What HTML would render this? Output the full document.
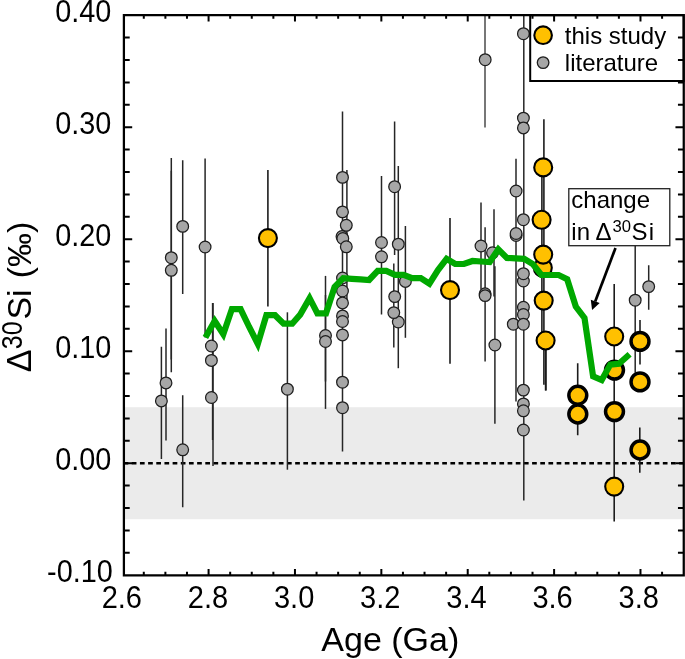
<!DOCTYPE html><html><head><meta charset="utf-8"><title>chart</title>
<style>html,body{margin:0;padding:0;background:#fff}svg{display:block;will-change:transform}text{font-family:"Liberation Sans",sans-serif;fill:#000}</style></head><body>
<svg width="685" height="659" viewBox="0 0 685 659">
<rect width="685" height="659" fill="#fff"/>
<defs><clipPath id="c"><rect x="123.6" y="15.2" width="560.0" height="560.0"/></clipPath></defs>
<rect x="123.6" y="407.2" width="560.0" height="112.0" fill="#ebebeb"/>
<line x1="123.6" y1="463.2" x2="683.6" y2="463.2" stroke="#000" stroke-width="2.6" stroke-dasharray="4.7 3.47"/>
<g clip-path="url(#c)">
<line x1="485.0" y1="10.0" x2="485.0" y2="127.5" stroke="#4a4a4a" stroke-width="1.5"/>
<line x1="171.3" y1="157.9" x2="171.3" y2="372.3" stroke="#262626" stroke-width="1.5"/>
<line x1="171.3" y1="170.8" x2="171.3" y2="359.6" stroke="#262626" stroke-width="1.5"/>
<line x1="182.7" y1="160.3" x2="182.7" y2="294.1" stroke="#262626" stroke-width="1.5"/>
<line x1="205.1" y1="158.6" x2="205.1" y2="337.5" stroke="#262626" stroke-width="1.5"/>
<line x1="166.0" y1="328.6" x2="166.0" y2="440.5" stroke="#262626" stroke-width="1.5"/>
<line x1="161.4" y1="346.8" x2="161.4" y2="459.0" stroke="#262626" stroke-width="1.5"/>
<line x1="182.7" y1="395.3" x2="182.7" y2="507.3" stroke="#262626" stroke-width="1.5"/>
<line x1="213.0" y1="303.0" x2="213.0" y2="466.0" stroke="#262626" stroke-width="1.5"/>
<line x1="212.6" y1="303.0" x2="212.6" y2="440.0" stroke="#262626" stroke-width="1.5"/>
<line x1="287.4" y1="312.3" x2="287.4" y2="469.7" stroke="#262626" stroke-width="1.5"/>
<line x1="325.5" y1="275.9" x2="325.5" y2="408.9" stroke="#262626" stroke-width="1.5"/>
<line x1="325.5" y1="295.0" x2="325.5" y2="381.5" stroke="#262626" stroke-width="1.5"/>
<line x1="342.5" y1="111.4" x2="342.5" y2="451.4" stroke="#262626" stroke-width="1.5"/>
<line x1="346.9" y1="169.9" x2="346.9" y2="300.0" stroke="#262626" stroke-width="1.5"/>
<line x1="381.5" y1="176.0" x2="381.5" y2="314.5" stroke="#262626" stroke-width="1.5"/>
<line x1="394.6" y1="121.4" x2="394.6" y2="255.0" stroke="#262626" stroke-width="1.5"/>
<line x1="393.8" y1="263.5" x2="393.8" y2="347.5" stroke="#262626" stroke-width="1.5"/>
<line x1="398.3" y1="166.0" x2="398.3" y2="368.2" stroke="#262626" stroke-width="1.5"/>
<line x1="405.4" y1="225.9" x2="405.4" y2="337.8" stroke="#262626" stroke-width="1.5"/>
<line x1="481.0" y1="202.4" x2="481.0" y2="289.6" stroke="#262626" stroke-width="1.5"/>
<line x1="494.0" y1="209.2" x2="494.0" y2="296.4" stroke="#262626" stroke-width="1.5"/>
<line x1="485.1" y1="227.3" x2="485.1" y2="361.5" stroke="#262626" stroke-width="1.5"/>
<line x1="494.9" y1="266.3" x2="494.9" y2="423.7" stroke="#262626" stroke-width="1.5"/>
<line x1="516.0" y1="158.7" x2="516.0" y2="401.6" stroke="#262626" stroke-width="1.5"/>
<line x1="523.8" y1="10.0" x2="523.8" y2="500.5" stroke="#262626" stroke-width="1.5"/>
<line x1="635.2" y1="227.0" x2="635.2" y2="372.8" stroke="#262626" stroke-width="1.5"/>
<line x1="648.7" y1="265.2" x2="648.7" y2="309.7" stroke="#262626" stroke-width="1.5"/>
<line x1="267.9" y1="170.0" x2="267.9" y2="306.5" stroke="#1c1c1c" stroke-width="1.6"/>
<line x1="450.0" y1="218.1" x2="450.0" y2="363.8" stroke="#1c1c1c" stroke-width="1.6"/>
<line x1="543.9" y1="119.2" x2="543.9" y2="384.7" stroke="#1c1c1c" stroke-width="1.6"/>
<line x1="541.9" y1="170.0" x2="541.9" y2="345.0" stroke="#1c1c1c" stroke-width="1.6"/>
<line x1="545.6" y1="340.0" x2="545.6" y2="390.5" stroke="#1c1c1c" stroke-width="1.6"/>
<line x1="545.9" y1="340.0" x2="545.9" y2="390.5" stroke="#1c1c1c" stroke-width="1.6"/>
<line x1="614.2" y1="284.0" x2="614.2" y2="521.4" stroke="#1c1c1c" stroke-width="1.6"/>
<line x1="577.7" y1="363.2" x2="577.7" y2="435.2" stroke="#1c1c1c" stroke-width="1.6"/>
<line x1="640.0" y1="320.0" x2="640.0" y2="364.6" stroke="#1c1c1c" stroke-width="1.6"/>
<line x1="639.8" y1="427.5" x2="639.8" y2="472.8" stroke="#1c1c1c" stroke-width="1.6"/>
<circle cx="171.3" cy="257.7" r="5.85" fill="#a6a6a6" stroke="#1e1e1e" stroke-width="1.25"/>
<circle cx="171.3" cy="270.3" r="5.85" fill="#a6a6a6" stroke="#1e1e1e" stroke-width="1.25"/>
<circle cx="182.7" cy="226.4" r="5.85" fill="#a6a6a6" stroke="#1e1e1e" stroke-width="1.25"/>
<circle cx="205.1" cy="247.0" r="5.85" fill="#a6a6a6" stroke="#1e1e1e" stroke-width="1.25"/>
<circle cx="166.0" cy="382.9" r="5.85" fill="#a6a6a6" stroke="#1e1e1e" stroke-width="1.25"/>
<circle cx="161.4" cy="400.9" r="5.85" fill="#a6a6a6" stroke="#1e1e1e" stroke-width="1.25"/>
<circle cx="182.7" cy="449.8" r="5.85" fill="#a6a6a6" stroke="#1e1e1e" stroke-width="1.25"/>
<circle cx="211.4" cy="346.0" r="5.85" fill="#a6a6a6" stroke="#1e1e1e" stroke-width="1.25"/>
<circle cx="211.4" cy="360.4" r="5.85" fill="#a6a6a6" stroke="#1e1e1e" stroke-width="1.25"/>
<circle cx="211.4" cy="397.5" r="5.85" fill="#a6a6a6" stroke="#1e1e1e" stroke-width="1.25"/>
<circle cx="287.4" cy="389.2" r="5.85" fill="#a6a6a6" stroke="#1e1e1e" stroke-width="1.25"/>
<circle cx="325.5" cy="335.5" r="5.85" fill="#a6a6a6" stroke="#1e1e1e" stroke-width="1.25"/>
<circle cx="325.5" cy="341.5" r="5.85" fill="#a6a6a6" stroke="#1e1e1e" stroke-width="1.25"/>
<circle cx="342.5" cy="177.4" r="5.85" fill="#a6a6a6" stroke="#1e1e1e" stroke-width="1.25"/>
<circle cx="342.5" cy="211.9" r="5.85" fill="#a6a6a6" stroke="#1e1e1e" stroke-width="1.25"/>
<circle cx="346.3" cy="225.3" r="5.85" fill="#a6a6a6" stroke="#1e1e1e" stroke-width="1.25"/>
<circle cx="342.0" cy="236.5" r="5.85" fill="#a6a6a6" stroke="#1e1e1e" stroke-width="1.25"/>
<circle cx="342.8" cy="238.5" r="5.85" fill="#a6a6a6" stroke="#1e1e1e" stroke-width="1.25"/>
<circle cx="346.3" cy="246.8" r="5.85" fill="#a6a6a6" stroke="#1e1e1e" stroke-width="1.25"/>
<circle cx="342.5" cy="278.0" r="5.85" fill="#a6a6a6" stroke="#1e1e1e" stroke-width="1.25"/>
<circle cx="342.5" cy="291.0" r="5.85" fill="#a6a6a6" stroke="#1e1e1e" stroke-width="1.25"/>
<circle cx="342.5" cy="302.9" r="5.85" fill="#a6a6a6" stroke="#1e1e1e" stroke-width="1.25"/>
<circle cx="342.5" cy="315.9" r="5.85" fill="#a6a6a6" stroke="#1e1e1e" stroke-width="1.25"/>
<circle cx="342.5" cy="321.5" r="5.85" fill="#a6a6a6" stroke="#1e1e1e" stroke-width="1.25"/>
<circle cx="342.5" cy="334.9" r="5.85" fill="#a6a6a6" stroke="#1e1e1e" stroke-width="1.25"/>
<circle cx="342.5" cy="382.2" r="5.85" fill="#a6a6a6" stroke="#1e1e1e" stroke-width="1.25"/>
<circle cx="342.5" cy="407.7" r="5.85" fill="#a6a6a6" stroke="#1e1e1e" stroke-width="1.25"/>
<circle cx="381.5" cy="242.5" r="5.85" fill="#a6a6a6" stroke="#1e1e1e" stroke-width="1.25"/>
<circle cx="381.5" cy="256.8" r="5.85" fill="#a6a6a6" stroke="#1e1e1e" stroke-width="1.25"/>
<circle cx="394.6" cy="186.7" r="5.85" fill="#a6a6a6" stroke="#1e1e1e" stroke-width="1.25"/>
<circle cx="398.3" cy="322.0" r="5.85" fill="#a6a6a6" stroke="#1e1e1e" stroke-width="1.25"/>
<circle cx="393.8" cy="312.6" r="5.85" fill="#a6a6a6" stroke="#1e1e1e" stroke-width="1.25"/>
<circle cx="394.7" cy="296.6" r="5.85" fill="#a6a6a6" stroke="#1e1e1e" stroke-width="1.25"/>
<circle cx="398.3" cy="244.2" r="5.85" fill="#a6a6a6" stroke="#1e1e1e" stroke-width="1.25"/>
<circle cx="405.4" cy="281.4" r="5.85" fill="#a6a6a6" stroke="#1e1e1e" stroke-width="1.25"/>
<circle cx="485.2" cy="59.7" r="5.85" fill="#a6a6a6" stroke="#1e1e1e" stroke-width="1.25"/>
<circle cx="481.0" cy="246.0" r="5.85" fill="#a6a6a6" stroke="#1e1e1e" stroke-width="1.25"/>
<circle cx="492.5" cy="252.8" r="5.85" fill="#a6a6a6" stroke="#1e1e1e" stroke-width="1.25"/>
<circle cx="485.1" cy="293.8" r="5.85" fill="#a6a6a6" stroke="#1e1e1e" stroke-width="1.25"/>
<circle cx="485.1" cy="295.6" r="5.85" fill="#a6a6a6" stroke="#1e1e1e" stroke-width="1.25"/>
<circle cx="494.9" cy="345.0" r="5.85" fill="#a6a6a6" stroke="#1e1e1e" stroke-width="1.25"/>
<circle cx="516.1" cy="191.0" r="5.85" fill="#a6a6a6" stroke="#1e1e1e" stroke-width="1.25"/>
<circle cx="516.1" cy="235.5" r="5.85" fill="#a6a6a6" stroke="#1e1e1e" stroke-width="1.25"/>
<circle cx="516.1" cy="233.5" r="5.85" fill="#a6a6a6" stroke="#1e1e1e" stroke-width="1.25"/>
<circle cx="513.3" cy="324.2" r="5.85" fill="#a6a6a6" stroke="#1e1e1e" stroke-width="1.25"/>
<circle cx="523.4" cy="33.7" r="5.85" fill="#a6a6a6" stroke="#1e1e1e" stroke-width="1.25"/>
<circle cx="523.4" cy="118.1" r="5.85" fill="#a6a6a6" stroke="#1e1e1e" stroke-width="1.25"/>
<circle cx="523.4" cy="127.9" r="5.85" fill="#a6a6a6" stroke="#1e1e1e" stroke-width="1.25"/>
<circle cx="523.4" cy="219.7" r="5.85" fill="#a6a6a6" stroke="#1e1e1e" stroke-width="1.25"/>
<circle cx="523.4" cy="281.0" r="5.85" fill="#a6a6a6" stroke="#1e1e1e" stroke-width="1.25"/>
<circle cx="523.4" cy="273.7" r="5.85" fill="#a6a6a6" stroke="#1e1e1e" stroke-width="1.25"/>
<circle cx="523.4" cy="307.3" r="5.85" fill="#a6a6a6" stroke="#1e1e1e" stroke-width="1.25"/>
<circle cx="523.4" cy="314.5" r="5.85" fill="#a6a6a6" stroke="#1e1e1e" stroke-width="1.25"/>
<circle cx="523.4" cy="324.2" r="5.85" fill="#a6a6a6" stroke="#1e1e1e" stroke-width="1.25"/>
<circle cx="523.4" cy="390.1" r="5.85" fill="#a6a6a6" stroke="#1e1e1e" stroke-width="1.25"/>
<circle cx="523.4" cy="403.9" r="5.85" fill="#a6a6a6" stroke="#1e1e1e" stroke-width="1.25"/>
<circle cx="523.4" cy="410.8" r="5.85" fill="#a6a6a6" stroke="#1e1e1e" stroke-width="1.25"/>
<circle cx="523.4" cy="430.0" r="5.85" fill="#a6a6a6" stroke="#1e1e1e" stroke-width="1.25"/>
<circle cx="635.2" cy="300.2" r="5.85" fill="#a6a6a6" stroke="#1e1e1e" stroke-width="1.25"/>
<circle cx="648.7" cy="286.6" r="5.85" fill="#a6a6a6" stroke="#1e1e1e" stroke-width="1.25"/>
<circle cx="267.9" cy="238.1" r="9.0" fill="#ffc000" stroke="#000" stroke-width="2.1"/>
<circle cx="450.0" cy="290.1" r="9.0" fill="#ffc000" stroke="#000" stroke-width="2.1"/>
<circle cx="543.2" cy="167.4" r="9.0" fill="#ffc000" stroke="#000" stroke-width="2.1"/>
<circle cx="541.6" cy="219.8" r="9.0" fill="#ffc000" stroke="#000" stroke-width="2.1"/>
<circle cx="542.8" cy="267.8" r="9.0" fill="#ffc000" stroke="#000" stroke-width="2.1"/>
<circle cx="543.2" cy="254.6" r="9.0" fill="#ffc000" stroke="#000" stroke-width="2.1"/>
<circle cx="543.7" cy="300.6" r="9.0" fill="#ffc000" stroke="#000" stroke-width="2.1"/>
<circle cx="545.6" cy="340.5" r="9.0" fill="#ffc000" stroke="#000" stroke-width="2.1"/>
<circle cx="614.2" cy="336.5" r="9.0" fill="#ffc000" stroke="#000" stroke-width="2.1"/>
<circle cx="614.2" cy="486.6" r="9.0" fill="#ffc000" stroke="#000" stroke-width="2.1"/>
<circle cx="577.8" cy="414.0" r="8.95" fill="#ffc000" stroke="#000" stroke-width="3.5"/>
<circle cx="577.8" cy="395.3" r="8.95" fill="#ffc000" stroke="#000" stroke-width="3.5"/>
<circle cx="614.5" cy="370.1" r="8.95" fill="#ffc000" stroke="#000" stroke-width="3.5"/>
<circle cx="614.5" cy="411.6" r="8.95" fill="#ffc000" stroke="#000" stroke-width="3.5"/>
<circle cx="640.0" cy="341.4" r="8.95" fill="#ffc000" stroke="#000" stroke-width="3.5"/>
<circle cx="640.0" cy="381.9" r="8.95" fill="#ffc000" stroke="#000" stroke-width="3.5"/>
<circle cx="640.0" cy="450.0" r="8.95" fill="#ffc000" stroke="#000" stroke-width="3.5"/>
<polyline points="205.4,337.5 214.7,321.0 223.3,334.2 231.9,309.1 240.6,309.1 249.2,327.0 257.8,343.9 266.4,315.2 275.0,315.2 283.6,323.7 292.2,323.7 300.2,314.6 309.6,298.2 317.4,313.3 326.0,313.3 334.6,287.0 343.2,278.2 351.9,278.8 360.5,279.4 369.1,280.0 377.7,270.9 386.3,270.9 394.9,274.9 403.5,274.9 412.2,278.2 420.8,278.2 429.4,283.7 438.0,270.1 446.6,258.8 455.2,264.0 463.9,264.0 472.5,261.0 481.1,261.5 489.7,262.0 498.3,249.3 506.9,257.9 515.5,258.3 524.2,258.9 532.8,264.0 541.4,275.0 550.0,275.0 558.6,275.0 567.2,279.2 575.8,306.5 584.5,318.0 593.1,376.4 601.7,380.1 610.3,364.6 618.9,363.7 629.6,354.2" fill="none" stroke="#00a800" stroke-width="6.2" stroke-linejoin="miter" stroke-miterlimit="10"/>
</g>
<rect x="568.8" y="188.7" width="101.0" height="57.0" fill="#fff" stroke="#222" stroke-width="1.3"/>
<text transform="translate(571.30,208.20) scale(1.018,1)" font-size="23.60" text-anchor="start">change</text>
<text transform="translate(571.30,239.90) scale(1.018,1)" font-size="23.60" text-anchor="start">in<tspan dx="5.3">Δ</tspan><tspan font-size="16.4" dy="-8.3" dx="1.0">30</tspan><tspan dy="8.3" dx="0.5" letter-spacing="1.1">Si</tspan></text>
<line x1="615.5" y1="248.0" x2="595.2" y2="301.4" stroke="#000" stroke-width="2.7"/>
<polygon points="592.1,309.9 590.8,299.7 599.7,303.1" fill="#000"/>
<rect x="530.2" y="15.2" width="153.4" height="65.8" fill="#fff" stroke="#000" stroke-width="2"/>
<circle cx="543.1" cy="35.2" r="8.8" fill="#ffc000" stroke="#000" stroke-width="2.1"/>
<circle cx="543.1" cy="62.6" r="5.8" fill="#a6a6a6" stroke="#1e1e1e" stroke-width="1.3"/>
<text transform="translate(564.80,43.90) scale(1.018,1)" font-size="23.60" text-anchor="start">this study</text>
<text transform="translate(564.80,70.70) scale(1.018,1)" font-size="23.60" text-anchor="start">literature</text>
<path d="M123.90 15.10H683.75V575.40H123.90Z" fill="none" stroke="#000" stroke-width="2.25"/>
<path d="M143.79 15.10v3.7M143.79 575.40v-3.7M165.39 15.10v3.7M165.39 575.40v-3.7M186.98 15.10v3.7M186.98 575.40v-3.7M208.58 15.10v6.3M208.58 575.40v-6.3M230.18 15.10v3.7M230.18 575.40v-3.7M251.77 15.10v3.7M251.77 575.40v-3.7M273.37 15.10v3.7M273.37 575.40v-3.7M294.96 15.10v6.3M294.96 575.40v-6.3M316.56 15.10v3.7M316.56 575.40v-3.7M338.15 15.10v3.7M338.15 575.40v-3.7M359.75 15.10v3.7M359.75 575.40v-3.7M381.34 15.10v6.3M381.34 575.40v-6.3M402.93 15.10v3.7M402.93 575.40v-3.7M424.53 15.10v3.7M424.53 575.40v-3.7M446.12 15.10v3.7M446.12 575.40v-3.7M467.72 15.10v6.3M467.72 575.40v-6.3M489.31 15.10v3.7M489.31 575.40v-3.7M510.91 15.10v3.7M510.91 575.40v-3.7M532.51 15.10v3.7M532.51 575.40v-3.7M554.10 15.10v6.3M554.10 575.40v-6.3M575.70 15.10v3.7M575.70 575.40v-3.7M597.29 15.10v3.7M597.29 575.40v-3.7M618.88 15.10v3.7M618.88 575.40v-3.7M640.48 15.10v6.3M640.48 575.40v-6.3M662.08 15.10v3.7M662.08 575.40v-3.7M123.90 552.80h5.8M683.75 552.80h-5.8M123.90 530.40h5.8M683.75 530.40h-5.8M123.90 508.00h5.8M683.75 508.00h-5.8M123.90 485.60h5.8M683.75 485.60h-5.8M123.90 463.20h8.3M683.75 463.20h-8.3M123.90 440.80h5.8M683.75 440.80h-5.8M123.90 418.40h5.8M683.75 418.40h-5.8M123.90 396.00h5.8M683.75 396.00h-5.8M123.90 373.60h5.8M683.75 373.60h-5.8M123.90 351.20h8.3M683.75 351.20h-8.3M123.90 328.80h5.8M683.75 328.80h-5.8M123.90 306.40h5.8M683.75 306.40h-5.8M123.90 284.00h5.8M683.75 284.00h-5.8M123.90 261.60h5.8M683.75 261.60h-5.8M123.90 239.20h8.3M683.75 239.20h-8.3M123.90 216.80h5.8M683.75 216.80h-5.8M123.90 194.40h5.8M683.75 194.40h-5.8M123.90 172.00h5.8M683.75 172.00h-5.8M123.90 149.60h5.8M683.75 149.60h-5.8M123.90 127.20h8.3M683.75 127.20h-8.3M123.90 104.80h5.8M683.75 104.80h-5.8M123.90 82.40h5.8M683.75 82.40h-5.8M123.90 60.00h5.8M683.75 60.00h-5.8M123.90 37.60h5.8M683.75 37.60h-5.8" stroke="#000" stroke-width="2" fill="none"/>
<text transform="translate(121.80,607.50) scale(0.924,1)" font-size="31.40" text-anchor="middle">2.6</text>
<text transform="translate(207.95,607.50) scale(0.924,1)" font-size="31.40" text-anchor="middle">2.8</text>
<text transform="translate(294.11,607.50) scale(0.924,1)" font-size="31.40" text-anchor="middle">3.0</text>
<text transform="translate(380.26,607.50) scale(0.924,1)" font-size="31.40" text-anchor="middle">3.2</text>
<text transform="translate(466.42,607.50) scale(0.924,1)" font-size="31.40" text-anchor="middle">3.4</text>
<text transform="translate(552.57,607.50) scale(0.924,1)" font-size="31.40" text-anchor="middle">3.6</text>
<text transform="translate(638.72,607.50) scale(0.924,1)" font-size="31.40" text-anchor="middle">3.8</text>
<text transform="translate(112.70,582.10) scale(0.924,1)" font-size="31.20" text-anchor="end">-0.10</text>
<text transform="translate(111.20,470.10) scale(0.924,1)" font-size="31.20" text-anchor="end">0.00</text>
<text transform="translate(111.20,358.10) scale(0.924,1)" font-size="31.20" text-anchor="end">0.10</text>
<text transform="translate(111.20,246.10) scale(0.924,1)" font-size="31.20" text-anchor="end">0.20</text>
<text transform="translate(111.20,134.10) scale(0.924,1)" font-size="31.20" text-anchor="end">0.30</text>
<text transform="translate(111.20,22.10) scale(0.924,1)" font-size="31.20" text-anchor="end">0.40</text>
<text transform="translate(390.30,650.60) scale(1.000,1)" font-size="34.00" text-anchor="middle">Age (Ga)</text>
<g transform="translate(30.9,372.2) rotate(-90)"><text transform="scale(0.96,1)" font-size="35.5">Δ</text><text transform="translate(23.0,-9.1) scale(0.82,1)" font-size="30.4">30</text><text x="52.6" y="0" font-size="34">Si <tspan dx="1.6">(‰)</tspan></text></g>
</svg></body></html>
